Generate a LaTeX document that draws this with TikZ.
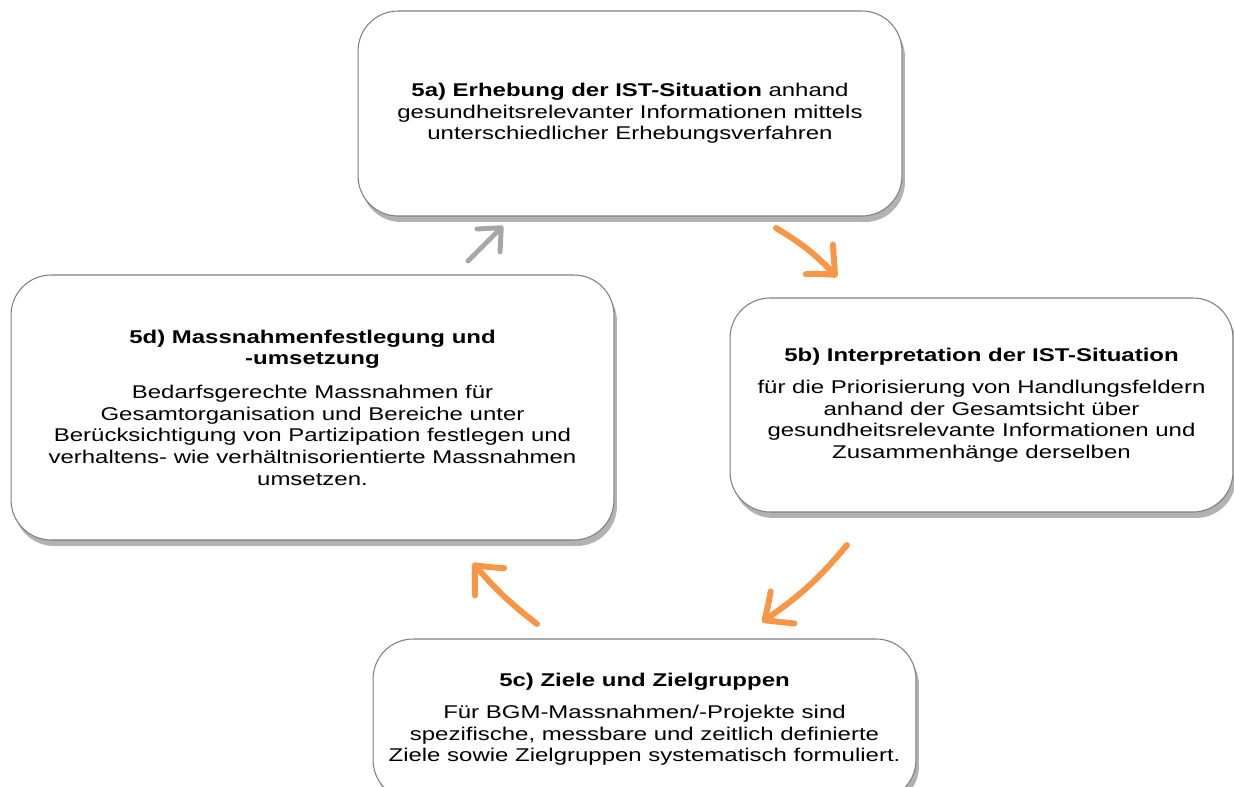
\documentclass[tikz,border=0pt]{standalone}
\usepackage{fontspec}
\setmainfont{Liberation Sans}[FakeStretch=1.3]
\usetikzlibrary{arrows.meta,shadows,bending}
\definecolor{zyklusorange}{HTML}{F79646}
\definecolor{zyklusgrau}{HTML}{A6A6A6}
\definecolor{randgrau}{HTML}{7F7F7F}
\tikzset{
  phase/.style={draw=randgrau, line width=0.6pt, fill=white, rounded corners=0.8cm,
    align=center, inner sep=0pt, font=\fontsize{10.5}{12.3}\selectfont,
    drop shadow={shadow xshift=0.6mm, shadow yshift=-1.2mm, fill=black, opacity=0.3}},
  pfeil/.style={line width=3.4pt, zyklusorange, line cap=round,
    -{Straight Barb[length=4.6mm,width=8mm,round,bend]}},
  rueckpfeil/.style={line width=2.8pt, zyklusgrau, line cap=round,
    -{Straight Barb[length=3.6mm,width=6.5mm,round]}}
}
\begin{document}
\begin{tikzpicture}[x=0.02cm, y=-0.02cm]
\useasboundingbox (0,0) rectangle (1234,787);
% die vier Phasen
\node[phase, minimum width=10.88cm, minimum height=4.1cm] (erhebung) at (630,113.5)
  {\textbf{5a) Erhebung der IST-Situation} anhand\\
   gesundheitsrelevanter Informationen mittels\\
   unterschiedlicher Erhebungsverfahren};
\node[phase, minimum width=10.06cm, minimum height=4.28cm] (interpretation) at (981.5,405)
  {\textbf{5b) Interpretation der IST-Situation}\\[6pt]
   für die Priorisierung von Handlungsfeldern\\
   anhand der Gesamtsicht über\\
   gesundheitsrelevante Informationen und\\
   Zusammenhänge derselben};
\node[phase, minimum width=10.86cm, minimum height=3.22cm] (ziele) at (644.5,719.5)
  {\textbf{5c) Ziele und Zielgruppen}\\[6pt]
   Für BGM-Massnahmen/-Projekte sind\\
   spezifische, messbare und zeitlich definierte\\
   Ziele sowie Zielgruppen systematisch formuliert.};
\node[phase, minimum width=12.06cm, minimum height=5.3cm] (massnahmen) at (312.5,407.5)
  {\textbf{5d) Massnahmenfestlegung und}\\
   \textbf{-umsetzung}\\[7pt]
   Bedarfsgerechte Massnahmen für\\
   Gesamtorganisation und Bereiche unter\\
   Berücksichtigung von Partizipation festlegen und\\
   verhaltens- wie verhältnisorientierte Massnahmen\\
   umsetzen.};
% Pfeile zwischen den Phasen
\path
  (776,228) coordinate (ab1) (837,277) coordinate (ab2)
  (847,545) coordinate (bc1) (762,622) coordinate (bc2)
  (537,624) coordinate (cd1) (473,563) coordinate (cd2)
  (468,261) coordinate (da1) (503,226) coordinate (da2);
\draw[pfeil] (ab1) to[bend left=8] (ab2);
\draw[pfeil] (bc1) to[bend left=8] (bc2);
\draw[pfeil] (cd1) to[bend left=6] (cd2);
\draw[rueckpfeil] (da1) -- (da2);
\end{tikzpicture}
\end{document}
